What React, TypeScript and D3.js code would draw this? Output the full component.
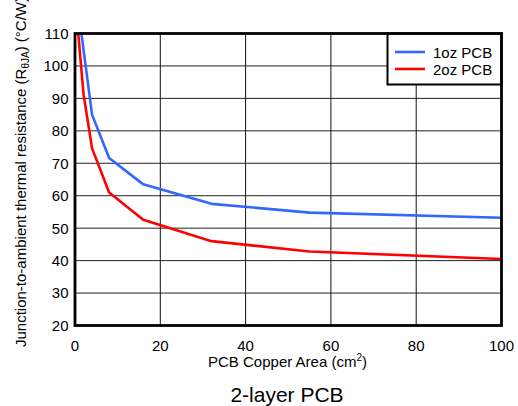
import React from "react";
import * as d3 from "d3";

const seriesNames = ["1oz PCB", "2oz PCB"];
const seriesColors = ["#3366ff", "#ff0000"];
const area1oz = [1, 4, 8, 16, 32, 55, 100];
const rth1oz = [115, 85, 71.6, 63.5, 57.5, 54.8, 53.2];
const area2oz = [0.5, 2, 4, 8, 16, 32, 55, 100];
const rth2oz = [114, 91.3, 74.6, 61, 52.6, 46, 42.8, 40.5];
const xTicks = [0, 20, 40, 60, 80, 100];
const yTicks = [20, 30, 40, 50, 60, 70, 80, 90, 100, 110];

const W = 518;
const H = 406;
const L = 75, R = 501.5, T = 33.5, B = 325.5;
const font = "'Liberation Sans', Arial, Helvetica, sans-serif";
const fs = 15;

export default function App() {
  const x = d3.scaleLinear().domain([0, 100]).range([L, R]);
  const y = d3.scaleLinear().domain([20, 110]).range([B, T]);
  const line = d3
    .line<[number, number]>()
    .x((d) => x(d[0]))
    .y((d) => y(d[1]));
  const series = [
    area1oz.map((a, i) => [a, rth1oz[i]] as [number, number]),
    area2oz.map((a, i) => [a, rth2oz[i]] as [number, number]),
  ];
  return (
    <svg
      width={W}
      height={H}
      style={{ position: "absolute", left: 0, top: 0, background: "#fff" }}
      fontFamily={font}
    >
      <defs>
        <clipPath id="plot">
          <rect x={L} y={T} width={R - L} height={B - T} />
        </clipPath>
      </defs>
      <rect x={0} y={0} width={W} height={H} fill="#fff" />
      {yTicks.slice(1, -1).map((t) => (
        <line key={"gy" + t} x1={L} x2={R} y1={y(t)} y2={y(t)} stroke="#222" strokeWidth={1} />
      ))}
      {xTicks.slice(1, -1).map((t) => (
        <line key={"gx" + t} x1={x(t)} x2={x(t)} y1={T} y2={B} stroke="#111" strokeWidth={1} />
      ))}
      <g clipPath="url(#plot)">
        {series.map((s, i) => (
          <path key={i} d={line(s) || ""} fill="none" stroke={seriesColors[i]} strokeWidth={2.6} strokeLinejoin="round" />
        ))}
      </g>
      <rect x={387.5} y={T} width={R - 387.5} height={51} fill="#fff" stroke="#000" strokeWidth={2} />
      {seriesNames.map((n, i) => (
        <g key={n}>
          <line x1={395} x2={425} y1={52 + i * 17} y2={52 + i * 17} stroke={seriesColors[i]} strokeWidth={2.6} />
          <text x={433} y={57.5 + i * 17.5} fontSize={fs} fill="#000">
            {n}
          </text>
        </g>
      ))}
      <rect x={L} y={T} width={R - L} height={B - T} fill="none" stroke="#000" strokeWidth={2.8} />
      {yTicks.map((t) => (
        <text key={"ty" + t} x={68.5} y={y(t) + 5.4} fontSize={fs} textAnchor="end" fill="#000">
          {t}
        </text>
      ))}
      {xTicks.map((t) => (
        <text key={"tx" + t} x={x(t)} y={350.5} fontSize={fs} textAnchor="middle" fill="#000">
          {t}
        </text>
      ))}
      <text x={287.5} y={366.7} fontSize={fs} textAnchor="middle" fill="#000">
        PCB Copper Area (cm
        <tspan fontSize={10} dy={-6}>2</tspan>
        <tspan dy={6}>)</tspan>
      </text>
      <text x={287} y={401.5} fontSize={21} textAnchor="middle" fill="#000">
        2-layer PCB
      </text>
      <text transform="translate(25.5,347) rotate(-90)" fontSize={fs} fill="#000">
        Junction-to-ambient thermal resistance (R
        <tspan fontSize={10} dy={3}>θJA</tspan>
        <tspan dy={-3}>) (°C/W)</tspan>
      </text>
    </svg>
  );
}
